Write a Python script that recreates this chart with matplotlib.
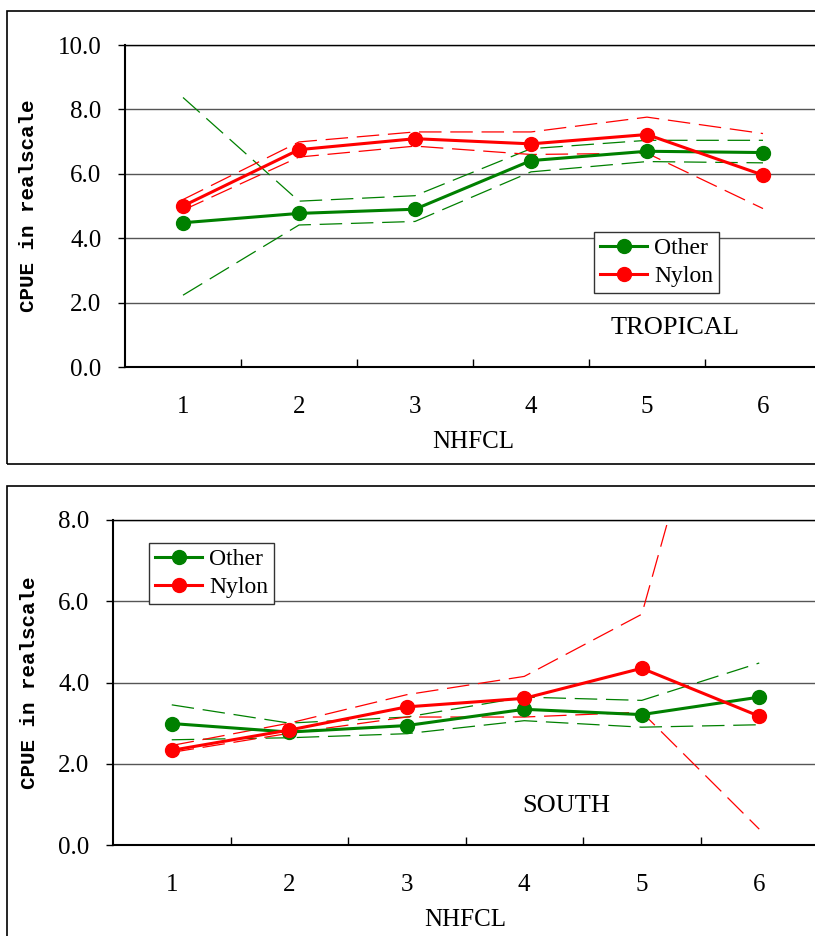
import matplotlib
matplotlib.use("Agg")
import matplotlib.pyplot as plt
from matplotlib.patches import Rectangle
from matplotlib.ticker import MultipleLocator, FixedLocator

categories = [1, 2, 3, 4, 5, 6]

# TROPICAL panel
trop_other = [4.48, 4.77, 4.90, 6.41, 6.70, 6.66]
trop_other_hi = [8.37, 5.15, 5.32, 6.78, 7.04, 7.04]
trop_other_lo = [2.23, 4.41, 4.52, 6.06, 6.38, 6.34]
trop_nylon = [5.00, 6.75, 7.09, 6.93, 7.22, 5.96]
trop_nylon_hi = [5.20, 6.99, 7.30, 7.30, 7.76, 7.25]
trop_nylon_lo = [4.87, 6.52, 6.86, 6.60, 6.64, 4.92]

# SOUTH panel
south_other = [2.99, 2.78, 2.94, 3.34, 3.21, 3.64]
south_other_hi = [3.45, 3.00, 3.15, 3.64, 3.56, 4.48]
south_other_lo = [2.59, 2.64, 2.74, 3.06, 2.90, 2.96]
south_nylon = [2.33, 2.83, 3.40, 3.61, 4.35, 3.17]
south_nylon_hi = [2.45, 3.00, 3.70, 4.15, 5.68, 16.0]
south_nylon_lo = [2.28, 2.75, 3.15, 3.15, 3.27, 0.39]

GREEN = "#008000"
RED = "#ff0000"
SERIF = "Liberation Serif"

fig = plt.figure(figsize=(8.15, 9.36), dpi=100)

# outer frames (figure coords)
W, H = 815.0, 936.0
fig.patches.append(Rectangle((7 / W, 1 - 464 / H), 1.2, (464 - 11) / H,
                             transform=fig.transFigure, fill=False,
                             edgecolor="black", lw=1.2))
fig.patches.append(Rectangle((7 / W, -0.1), 1.2, 0.1 + (1 - 486 / H),
                             transform=fig.transFigure, fill=False,
                             edgecolor="black", lw=1.2))


def panel(rect, ymax, other, other_hi, other_lo, nylon, nylon_hi, nylon_lo,
          region, region_xy, legend_loc):
    ax = fig.add_axes(rect)
    ax.set_xlim(0.5, 6.5)
    ax.set_ylim(0, ymax)
    ax.yaxis.set_major_locator(MultipleLocator(2))
    ax.yaxis.grid(True, color="#555555", lw=1.0)
    ax.set_axisbelow(True)
    dash = (0, (18, 7))
    ax.plot(categories, other_hi, color=GREEN, lw=0.9, ls=dash)
    ax.plot(categories, other_lo, color=GREEN, lw=0.9, ls=dash)
    ax.plot(categories, nylon_hi, color=RED, lw=0.9, ls=dash)
    ax.plot(categories, nylon_lo, color=RED, lw=0.9, ls=dash)
    ax.plot(categories, other, color=GREEN, lw=2.2, marker="o", ms=10,
            label="Other")
    ax.plot(categories, nylon, color=RED, lw=2.2, marker="o", ms=10,
            label="Nylon")
    ax.spines["right"].set_visible(False)
    ax.spines["left"].set_linewidth(1.5)
    ax.spines["bottom"].set_linewidth(1.5)
    ax.spines["top"].set_linewidth(1.0)
    ax.set_xticks(categories)
    ax.set_xticklabels([str(c) for c in categories], fontfamily=SERIF,
                       fontsize=18)
    ax.xaxis.set_minor_locator(FixedLocator([1.5, 2.5, 3.5, 4.5, 5.5]))
    ax.tick_params(axis="x", which="major", length=0, pad=21)
    ax.tick_params(axis="x", which="minor", direction="in", length=6,
                   width=1)
    ax.tick_params(axis="y", which="major", direction="out", length=5,
                   width=1, pad=12)
    ax.set_yticklabels([f"{v:.1f}" for v in ax.get_yticks()],
                       fontfamily=SERIF, fontsize=18)
    ax.set_xlabel("NHFCL", fontfamily=SERIF, fontsize=18, labelpad=9)
    ax.set_ylabel("CPUE in realscale", fontfamily="Liberation Mono",
                  fontsize=15, fontweight="bold", labelpad=14)
    ax.text(region_xy[0], region_xy[1], region, fontfamily=SERIF,
            fontsize=19, ha="center", va="center")
    leg = ax.legend(loc="upper left", bbox_to_anchor=legend_loc,
                    prop={"family": SERIF, "size": 17}, frameon=True,
                    fancybox=False, edgecolor="#333333", framealpha=1,
                    handlelength=2.0, handletextpad=0.3, borderpad=0.25,
                    labelspacing=0.25, borderaxespad=0)
    leg.get_frame().set_linewidth(1.0)
    return ax


# top panel: axes from x=125 to 821, y=45 to 367
panel([125 / W, 1 - 367 / H, 696 / W, 322 / H], 10.0,
      trop_other, trop_other_hi, trop_other_lo,
      trop_nylon, trop_nylon_hi, trop_nylon_lo,
      "TROPICAL", (5.24, 1.2), ((594 - 125) / 696, (367 - 232) / 322))

# bottom panel: axes from x=113 to 818, y=520 to 845
panel([113 / W, 1 - 845 / H, 705 / W, 325 / H], 8.0,
      south_other, south_other_hi, south_other_lo,
      south_nylon, south_nylon_hi, south_nylon_lo,
      "SOUTH", (4.36, 0.95), ((149 - 113) / 705, (845 - 543) / 325))

fig.savefig("out.png", dpi=100)
